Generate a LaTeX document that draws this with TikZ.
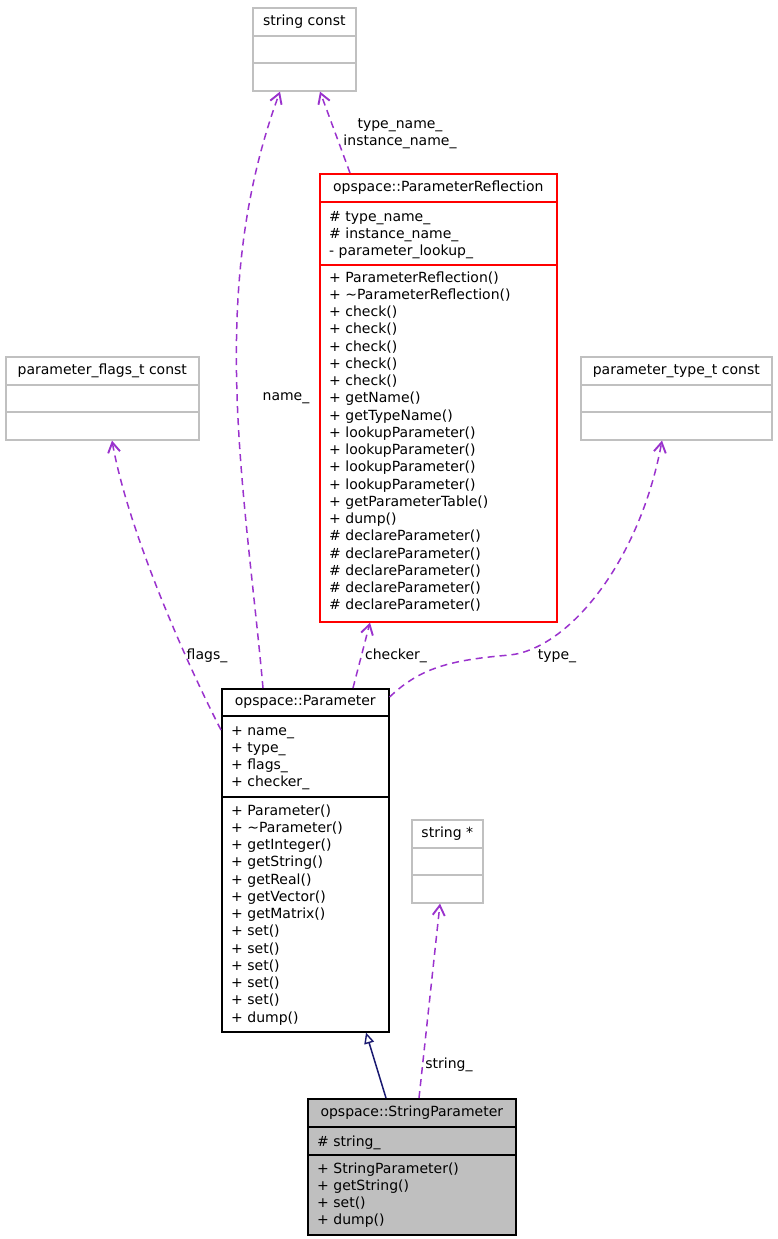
\documentclass[tikz,border=0pt]{standalone}
\usepackage{fontspec}
\setmainfont{DejaVu Sans}
\usetikzlibrary{arrows.meta}
\definecolor{edgep}{HTML}{9A32CD}
\definecolor{lgray}{HTML}{BFBFBF}
\definecolor{boxgray}{HTML}{C0C0C0}
\definecolor{navyb}{HTML}{191970}
\tikzset{
  txt/.style={inner sep=0pt, font=\fontsize{14}{17}\selectfont},
  ttl/.style={txt, text height=10.5pt, text depth=3.5pt},
  row/.style={draw, line width=1.6pt, inner sep=0pt, anchor=north west, minimum width=#1},
  ext/.style={draw=boxgray},
  rel/.style={edgep, line width=1.5pt, dash pattern=on 7pt off 5pt,
    -{Straight Barb[length=10pt,width=12pt,line width=1.9pt]}},
  inh/.style={navyb, line width=1.5pt, -{Triangle[open,length=11pt,width=10pt,line width=1.4pt]}},
  lbl/.style={txt, anchor=base},
}
\newcommand\mlines[4]{\foreach \t [count=\i from 0] in {#4} {\node[txt, anchor=base west] (#1-\i) at ({#2},{#3+17.25*\i}) {\t};}}
\begin{document}
\begin{tikzpicture}[x=1pt,y=-1pt]
\useasboundingbox (0,0) rectangle (777,1239);

% string const
\node[row=103pt, ext, minimum height=28pt] (sc) at (252,7) {};
\node[row=103pt, ext, minimum height=27pt] (sc-a) at (252,35) {};
\node[row=103pt, ext, minimum height=28pt] (sc-m) at (252,62) {};
\node[ttl] (sc-t) at (sc.center) {string const};

% ParameterReflection
\node[row=237pt, draw=red, minimum height=28pt] (pr) at (319,173) {};
\node[row=237pt, draw=red, minimum height=63pt] (pr-a) at (319,201) {};
\node[row=237pt, draw=red, minimum height=357pt] (pr-m) at (319,264) {};
\node[ttl] (pr-t) at (pr.center) {opspace::ParameterReflection};
\mlines{pra}{329}{221}{\# type\_name\_, \# instance\_name\_, - parameter\_lookup\_}
\mlines{prm}{329}{282}{+ ParameterReflection(), + \textasciitilde ParameterReflection(), + check(), + check(), + check(), + check(), + check(), + getName(), + getTypeName(), + lookupParameter(), + lookupParameter(), + lookupParameter(), + lookupParameter(), + getParameterTable(), + dump(), \# declareParameter(), \# declareParameter(), \# declareParameter(), \# declareParameter(), \# declareParameter()}

% parameter_flags_t const
\node[row=193pt, ext, minimum height=28pt] (pf) at (5,356) {};
\node[row=193pt, ext, minimum height=27pt] (pf-a) at (5,384) {};
\node[row=193pt, ext, minimum height=28pt] (pf-m) at (5,411) {};
\node[ttl] (pf-t) at (pf.center) {parameter\_flags\_t const};

% parameter_type_t const
\node[row=191pt, ext, minimum height=28pt] (pt) at (580,356) {};
\node[row=191pt, ext, minimum height=27pt] (pt-a) at (580,384) {};
\node[row=191pt, ext, minimum height=28pt] (pt-m) at (580,411) {};
\node[ttl] (pt-t) at (pt.center) {parameter\_type\_t const};

% Parameter
\node[row=167pt, draw=black, minimum height=27pt] (P) at (221,688) {};
\node[row=167pt, draw=black, minimum height=81pt] (P-a) at (221,715) {};
\node[row=167pt, draw=black, minimum height=235pt] (P-m) at (221,796) {};
\node[ttl] (P-t) at (P.center) {opspace::Parameter};
\mlines{Pa}{231}{735}{+ name\_, + type\_, + flags\_, + checker\_}
\mlines{Pm}{231}{815}{+ Parameter(), + \textasciitilde Parameter(), + getInteger(), + getString(), + getReal(), + getVector(), + getMatrix(), + set(), + set(), + set(), + set(), + set(), + dump()}

% string *
\node[row=71pt, ext, minimum height=28pt] (sp) at (411,819) {};
\node[row=71pt, ext, minimum height=27pt] (sp-a) at (411,847) {};
\node[row=71pt, ext, minimum height=28pt] (sp-m) at (411,874) {};
\node[ttl] (sp-t) at (sp.center) {string *};

% StringParameter
\node[row=208pt, draw=black, fill=lgray, minimum height=28pt] (SP) at (307,1098) {};
\node[row=208pt, draw=black, fill=lgray, minimum height=28pt] (SP-a) at (307,1126) {};
\node[row=208pt, draw=black, fill=lgray, minimum height=80pt] (SP-m) at (307,1154) {};
\node[ttl] (SP-t) at (SP.center) {opspace::StringParameter};
\mlines{SPa}{317}{1146}{\# string\_}
\mlines{SPm}{317}{1173}{+ StringParameter(), + getString(), + set(), + dump()}

% edges
\draw[rel] ([xshift=42pt]P.north west) .. controls (245,488) and (206,292) .. ([xshift=28pt]sc-m.south west);
\draw[rel] ([xshift=31pt]pr.north west) -- ([xshift=68pt]sc-m.south west);
\draw[rel] ([yshift=-42pt]P.north west) .. controls (185,660) and (128,530) .. ([xshift=107pt]pf-m.south west);
\draw[rel] ([xshift=132pt]P.north west) -- ([xshift=51pt]pr-m.south west);
\draw[rel] ([yshift=-9pt]P.north east) .. controls (420,668) and (450,660) .. (510,655) .. controls (570,648) and (640,560) .. ([xshift=82pt]pt-m.south west);
\draw[rel] ([xshift=112pt]SP.north west) -- ([xshift=29pt]sp-m.south west);
\draw[inh] ([xshift=79pt]SP.north west) -- ([xshift=145pt]P-m.south west);

% labels
\node[lbl] (l-name) at (286,400) {name\_};
\node[lbl] (l-tn) at (400,128) {type\_name\_};
\node[lbl] (l-in) at (400,145) {instance\_name\_};
\node[lbl] (l-flags) at (207,659) {flags\_};
\node[lbl] (l-checker) at (396,659) {checker\_};
\node[lbl] (l-type) at (557,659) {type\_};
\node[lbl] (l-string) at (449,1068) {string\_};
\end{tikzpicture}
\end{document}
